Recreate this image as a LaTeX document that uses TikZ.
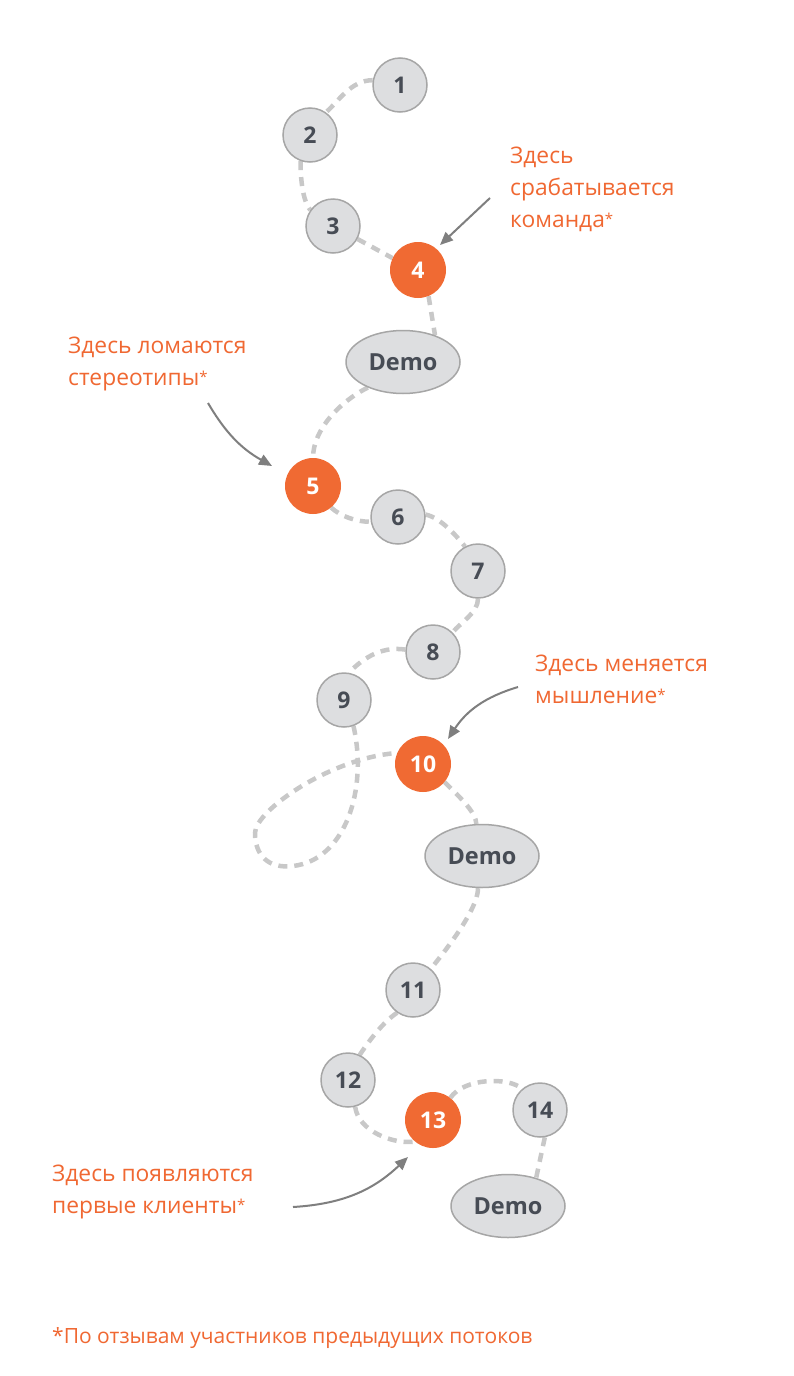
\documentclass[tikz,border=0pt]{standalone}
\usepackage{fontspec}
\setmainfont{Open Sans}
\usetikzlibrary{arrows.meta,backgrounds,shapes.geometric}
\definecolor{orangetxt}{HTML}{F06832}
\definecolor{orangefill}{HTML}{F06A33}
\definecolor{grayfill}{HTML}{DDDEE0}
\definecolor{grayborder}{HTML}{A6A6A6}
\definecolor{numtext}{HTML}{474C55}
\definecolor{pathgray}{HTML}{C8C8C8}
\definecolor{arrowgray}{HTML}{7F7F7F}
\newcommand\stern{\raisebox{3pt}{\fontsize{15}{15}\selectfont *}}
\begin{document}
\begin{tikzpicture}[x=1pt,y=-1pt,
  gnode/.style={circle, draw=grayborder, fill=grayfill, line width=1.5pt, minimum size=54pt, inner sep=0pt, font=\bfseries\fontsize{23}{23}\selectfont, text=numtext},
  onode/.style={circle, fill=orangefill, minimum size=56pt, inner sep=0pt, font=\bfseries\fontsize{23}{23}\selectfont, text=white},
  demo/.style={ellipse, draw=grayborder, fill=grayfill, line width=1.5pt, minimum width=114pt, minimum height=63pt, inner sep=0pt, font=\bfseries\fontsize{23.5}{23.5}\selectfont, text=numtext},
  trail/.style={draw=pathgray, line width=4.5pt, dash pattern=on 9pt off 7pt},
  callout/.style={text=orangetxt, font=\fontsize{22.8}{32}\selectfont, align=left, anchor=north west, inner sep=0pt},
  callarrow/.style={draw=arrowgray, line width=2pt, -{Triangle[length=13pt,width=11pt]}}
]
\useasboundingbox (0,0) rectangle (794,1376);

% nodes
\node[gnode] (n1) at (400,85) {1};
\node[gnode] (n2) at (310,135) {2};
\node[gnode] (n3) at (333,226) {3};
\node[onode] (n4) at (418,270) {4};
\node[demo] (d1) at (403,362) {Demo};
\node[onode] (n5) at (313,486) {5};
\node[gnode] (n6) at (398,517) {6};
\node[gnode] (n7) at (478,571) {7};
\node[gnode] (n8) at (433,652) {8};
\node[gnode] (n9) at (344,700) {9};
\node[onode] (n10) at (423,764) {10};
\node[demo] (d2) at (482,856) {Demo};
\node[gnode] (n11) at (413,990) {11};
\node[gnode] (n12) at (348,1080) {12};
\node[onode] (n13) at (433,1120) {13};
\node[gnode] (n14) at (540,1110) {14};
\node[demo] (d3) at (508,1206) {Demo};

% dashed trail
\begin{scope}[on background layer]
\fill[white] (0,0) rectangle (794,1376);
\draw[trail] (n1.170) .. controls +(-22,0) and +(12,-10) .. (n2.55);
\draw[trail] (n2.250) .. controls +(0,16) and +(-8,-10) .. (n3.145);
\draw[trail] (n3.-28) -- (n4.155);
\draw[trail] (n4.-68) -- (d1.40);
\draw[trail] (d1.216) .. controls +(-28,14) and +(0,-28) .. (n5.90);
\draw[trail] (n5.-50) .. controls +(10,9) and +(-14,0) .. (n6.190);
\draw[trail] (n6.5) .. controls +(15,3) and +(-8,-10) .. (n7.118);
\draw[trail] (n7.270) .. controls +(0,14) and +(8,-10) .. (n8.45);
\draw[trail] (n8.175) .. controls +(-26,-4) and +(12,-12) .. (n9.80);
\draw[trail] (n9.-70) .. controls (368,790) and (345,860) .. (293,866)
   .. controls (268,869) and (255,855) .. (255,833)
   .. controls (255,811) and (330,758) .. (n10.157);
\draw[trail] (n10.-40) .. controls +(12,12) and +(0,-12) .. (d2.100);
\draw[trail] (d2.-97) .. controls +(0,22) and +(12,-15) .. (n11.50);
\draw[trail] (n11.235) .. controls +(-15,10) and +(8,-12) .. (n12.65);
\draw[trail] (n12.-75) .. controls +(3,24) and +(-22,3) .. (n13.230);
\draw[trail] (n13.52) .. controls +(14,-20) and +(-14,-12) .. (n14.130);
\draw[trail] (n14.-80) -- (d3.45);
\end{scope}

% callouts
\node[callout] (t1) at (510,147) {Здесь\\срабатывается\\команда\stern};
\node[callout] (t2) at (68,337) {Здесь ломаются\\стереотипы\stern};
\node[callout] (t3) at (535,655) {Здесь меняется\\мышление\stern};
\node[callout] (t4) at (52,1165) {Здесь появляются\\первые клиенты\stern};
\node[text=orangetxt, font=\fontsize{21}{24}\selectfont, anchor=base west, inner sep=0pt] (foot) at (52,1343) {*По отзывам участников предыдущих потоков};

% callout arrows
\coordinate (a1s) at (490,198);
\coordinate (a1e) at (440,245);
\coordinate (a2s) at (208,403);
\coordinate (a2e) at (272,466);
\coordinate (a3s) at (518,687);
\coordinate (a3e) at (448,739);
\coordinate (a4s) at (293,1207);
\coordinate (a4e) at (408,1157);
\draw[callarrow] (a1s) -- (a1e);
\draw[callarrow] (a2s) to[bend right=15] (a2e);
\draw[callarrow] (a3s) to[bend right=20] (a3e);
\draw[callarrow] (a4s) to[bend right=20] (a4e);
\end{tikzpicture}
\end{document}
